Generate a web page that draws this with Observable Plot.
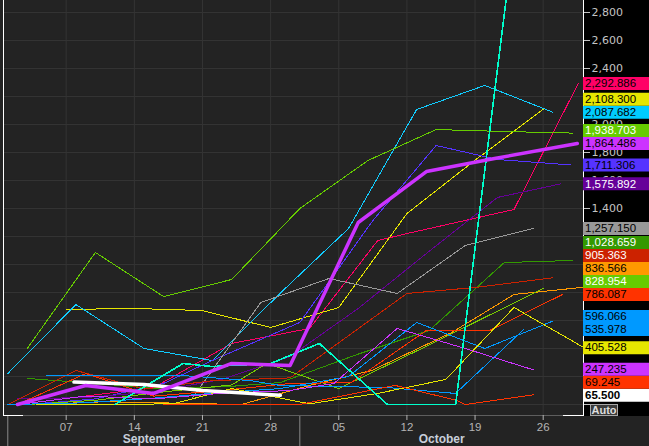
<!DOCTYPE html>
<html><head><meta charset="utf-8">
<script src="https://cdn.jsdelivr.net/npm/d3@7"></script>
<script src="https://cdn.jsdelivr.net/npm/@observablehq/plot@0.6"></script>
<style>
html,body{margin:0;padding:0;background:#232323;}
#chart{width:649px;height:446px;}
</style></head><body><div id="chart"></div>
<script>
// ---- data (day offsets from 1 September, values) ----
const startDate = Date.UTC(2025, 8, 1);
const weekTickDays = [6, 13, 20, 27, 34, 41, 48, 55];          // 07 14 21 28 05 12 19 26
const yTickValues = d3.range(0, 2801, 200);
const monthNames = ["September", "October"];
const monthStartDays = [0, 30, 61];

const pinkPts      = [[1,0],[8,60],[15,121],[23,436],[31,543],[38,1171],[41,1221],[52,1393],[58.6,2292.886]];
const yellowPts    = [[6,679],[13,686],[20,671],[27,550],[34,693],[41,1364],[48,1745],[55,2108.3]];
const cyanPts      = [[0,221],[7,714],[14,400],[21,314],[28,796],[35,1257],[42,2107],[49,2279],[56,2087.682]];
const limePts      = [[2,400],[9,1086],[16,771],[23,893],[30,1400],[37,1743],[44,1964],[51,1950],[58,1938.703]];
const magentaPts   = [[1,0],[8,136],[15,79],[23,293],[29,279],[36,1300],[43,1664],[50,1757],[58.5,1864.486]];
const violetPts    = [[2,0],[9,40],[16,150],[21,314],[30,586],[37.5,1314],[44,1850],[50.3,1750],[57.8,1711.306]];
const plumPts      = [[1,40],[8,50],[15,90],[22,180],[29,343],[36,686],[43,1079],[50.3,1479],[56.8,1575.892]];
const grayPts      = [[19,50],[26,729],[33,900],[40,793],[47,1136],[54,1257.15]];
const greenPts     = [[2,186],[9,150],[16,110],[23,130],[28,157],[36,360],[43.3,529],[51,1014],[58,1028.659]];
const redPts       = [[0,0],[7,243],[14,110],[21,170],[29,190],[41,793],[48,836],[56,905.363]];
const orangePts    = [[3,0],[10,20],[17,10],[24,0],[31,136],[37.4,243],[45.6,514],[52,786],[59,836.566]];
const chartreusePts= [[2,0],[9,30],[16,90],[23,140],[26.6,293],[34,114],[43.6,436],[55,828.954]];
const scarletPts   = [[1,0],[8,221],[15,60],[22,100],[29,150],[35.3,157],[43,529],[49.5,529],[57,786.087]];
const azurePts     = [[0,0],[7,10],[14,40],[21,80],[28,114],[35,200],[42,586],[49,400],[56,596.066]];
const skyPts       = [[4,207],[11,207],[18,207],[25,170],[28,136],[39,121],[46,79],[53,535.978]];
const goldPts      = [[3,0],[10,0],[17,5],[23,114],[31,5],[38,79],[45,179],[52,693],[59.2,405.528]];
const orchidPts    = [[1,0],[8,60],[15,40],[22,80],[29,100],[33.5,150],[40,543],[47,400],[54,247.235]];
const emberPts     = [[16,0],[30,0],[39.8,136],[46.2,28],[47,0],[54,69.245]];
const whitePts     = [[6.8,160],[14,143],[20,100],[28,65.5]];
const tealPts      = [[11,0],[18,293],[21,271],[27,293],[32,436],[39,0],[46,0],[53,3900]];

// draw order (thin first, thick last)
const seriesPts = [pinkPts, yellowPts, cyanPts, limePts, violetPts, plumPts, grayPts, greenPts, redPts,
  orangePts, chartreusePts, scarletPts, azurePts, skyPts, goldPts, orchidPts, emberPts, tealPts, whitePts, magentaPts];
const seriesColors = ["#ff0066", "#e6e600", "#11ccff", "#66cc00", "#5533ff", "#660099", "#999999", "#339900", "#cc2200",
  "#ff9900", "#77cc00", "#ff3300", "#0099ff", "#0099ff", "#e6e600", "#cc33ff", "#ff3300", "#00ffcc", "#ffffff", "#cc33ff"];
const seriesWidths = [1,1,1,1,1,1,1,1,1, 1,1,1,1,1,1,1,1, 1.6, 3.5, 3.5];
const seriesLabelled = [true,true,true,true,true,true,true,true,true, true,true,true,true,true,true,true,true, false, true, true];
const labelBoxColors = ["#ff0066", "#e6e600", "#00ccff", "#66cc00", "#5533ff", "#660099", "#999999", "#339900", "#cc2200",
  "#ff9900", "#66cc00", "#ff3300", "#0099ff", "#0099ff", "#e6e600", "#cc33ff", "#ff3300", "#00ffcc", "#ffffff", "#cc33ff"];
const labelTextColors = ["#000", "#000", "#000", "#fff", "#000", "#fff", "#000", "#fff", "#fff",
  "#000", "#fff", "#000", "#000", "#000", "#000", "#000", "#000", "#000", "#000", "#000"];

// ---- build ----
const day = d => new Date(startDate + d * 864e5);
const W = 649, H = 446, mL = 3, mR = 66, mT = 0, mB = 31;
const xDomain = [day(-0.44), day(59.14)];
const yDomain = [-78.57, 2885.71];
const yScale = Plot.scale({y: {domain: yDomain, range: [H - mB, mT]}});

const lineData = seriesPts.map(pts => pts.map(([d, v]) => ({date: day(d), value: v})));

const labels = seriesPts.map((pts, i) => ({
  value: pts[pts.length - 1][1], box: labelBoxColors[i], ink: labelTextColors[i],
  bold: seriesColors[i] === "#ffffff", on: seriesLabelled[i]
})).filter(d => d.on).sort((a, b) => a.value - b.value);
const boxH = 13;
let prevTop = Infinity;
for (const l of labels) {
  let c = yScale.apply(l.value);
  if (c + boxH / 2 > prevTop) c = prevTop - boxH / 2;
  prevTop = c - boxH / 2;
  l.cy = c;
  l.pos = yScale.invert(c);
  l.text = d3.format(",.3f")(l.value);
}
// axis tick labels whose glyphs are hidden behind the value boxes are not drawn
const boxSpans = labels.map(l => [l.cy - boxH / 2, l.cy + boxH / 2]).sort((a, b) => a[0] - b[0]);
const merged = [];
for (const s of boxSpans) {
  const last = merged[merged.length - 1];
  if (last && s[0] <= last[1] + 1.5) last[1] = Math.max(last[1], s[1]); else merged.push([...s]);
}
const covered = t => {
  const c = yScale.apply(t);
  return merged.some(([a, b]) => a <= c - 3.15 && b >= c + 4);
};
const shownTicks = yTickValues.filter(t => t !== 0 && !covered(t));

const months = monthNames.map((name, i) => {
  const a = Math.max(monthStartDays[i], -0.44), b = Math.min(monthStartDays[i + 1], 59.14);
  return {name, mid: day((a + b) / 2)};
});

const frameW = W - mL - mR;
const marks = [
  Plot.rect([0], {insetLeft: frameW, insetRight: -mR, insetBottom: -1, fill: "#000"}),
  Plot.gridX(weekTickDays.map(day), {stroke: "#343434", strokeOpacity: 1}),
  Plot.gridY(yTickValues, {stroke: "#343434", strokeOpacity: 1}),
  ...lineData.map((data, i) => Plot.line(data, {
    x: "date", y: "value", stroke: seriesColors[i], strokeWidth: seriesWidths[i],
    clip: true, curve: "linear", shapeRendering: seriesWidths[i] > 2 ? "auto" : "crispEdges"
  })),
  Plot.ruleX([xDomain[0], xDomain[1]], {stroke: "#ffffff", insetBottom: -1}),
  Plot.ruleY([yDomain[0]], {stroke: "#ffffff"}),
  Plot.ruleY([yDomain[0]], {stroke: "#5e5e5e", insetLeft: 20, insetRight: 20}),
  Plot.axisY(yTickValues, {anchor: "right", tickSize: 6, tickPadding: 2, text: null, color: "#c4c4c4"}),
  Plot.axisY(shownTicks, {anchor: "right", tickSize: 0, tickPadding: 8, fontSize: 11,
    fontFamily: "DejaVu Sans", color: "#c4c4c4", tickFormat: d3.format(",")}),
  Plot.tickY(labels, {y: "pos", stroke: "box", strokeWidth: boxH, insetLeft: frameW, insetRight: -mR}),
  Plot.text(labels.filter(d => !d.bold), {y: "pos", text: "text", fill: "ink", frameAnchor: "right",
    textAnchor: "start", dx: 1.5, lineAnchor: "middle", fontSize: 11.5}),
  Plot.text(labels.filter(d => d.bold), {y: "pos", text: "text", fill: "ink", frameAnchor: "right",
    textAnchor: "start", dx: 1.5, lineAnchor: "middle", fontSize: 11.5, fontWeight: "bold"}),
  Plot.axisX(weekTickDays.map(day), {tickSize: 5, tickPadding: 2, fontSize: 11.5,
    color: "#b4b4b4", tickFormat: d3.utcFormat("%d")}),
  Plot.ruleX(monthStartDays.slice(0, 2).map(day), {stroke: "#8a8a8a", insetTop: H - mB - mT + 1, insetBottom: -mB}),
  Plot.text(months, {x: "mid", text: "name", frameAnchor: "bottom", dy: 24, lineAnchor: "middle",
    fontSize: 12, fontWeight: "bold", fill: "#c8cfda"})
];

const plot = Plot.plot({
  width: W, height: H,
  marginLeft: mL, marginRight: mR, marginTop: mT, marginBottom: mB,
  x: {type: "utc", domain: xDomain, axis: null},
  y: {domain: yDomain, axis: null},
  color: {type: "identity"},
  style: {background: "#232323", color: "#c4c4c4", fontFamily: "'Liberation Sans', Arial, sans-serif", fontSize: "11px"},
  marks
});

// "Auto" scale button
const svg = d3.select(plot);
const g = svg.append("g");
g.append("rect").attr("x", 590.5).attr("y", 404.5).attr("width", 27).attr("height", 11)
  .attr("fill", "#3a3a3a").attr("stroke", "#a8a8a8");
g.append("text").attr("x", 604).attr("y", 414).attr("text-anchor", "middle")
  .attr("font-weight", "bold").attr("font-size", 11).attr("fill", "#dddddd")
  .attr("font-family", "'Liberation Sans', Arial, sans-serif").text("Auto");

document.getElementById("chart").appendChild(plot);
</script></body></html>
